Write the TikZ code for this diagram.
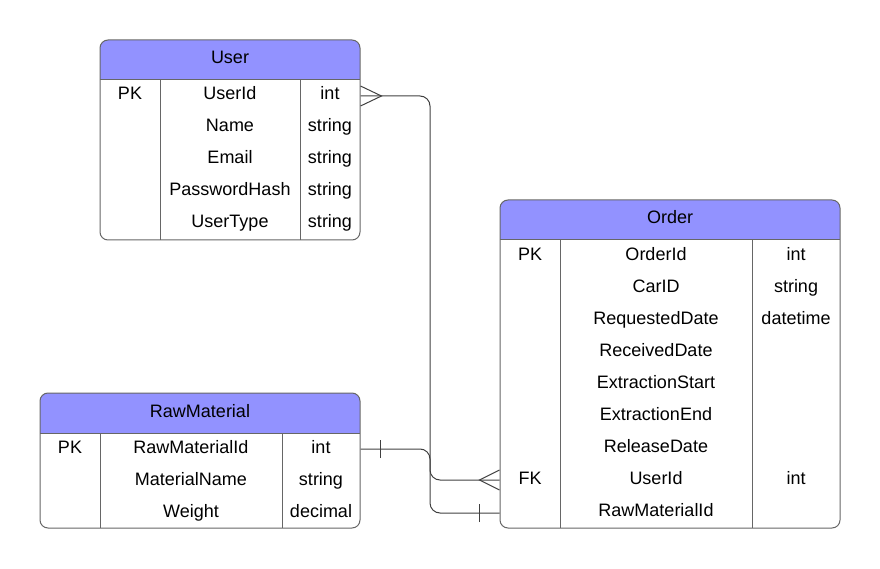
\documentclass[tikz,border=0pt]{standalone}
\usepackage{fontspec}
\setmainfont{Liberation Sans}
\begin{document}
\begin{tikzpicture}[x=1pt,y=-1pt,
  tablebox/.style={draw=black!60, line width=1pt, rounded corners=8pt, inner sep=0pt},
  hdr/.style={fill={rgb,255:red,146;green,146;blue,255}},
  grid/.style={draw=black!60, line width=1pt},
  txt/.style={inner sep=0pt, font=\fontsize{18}{21}\selectfont, anchor=base},
  conn/.style={draw=black!75, line width=1pt, rounded corners=10pt},
  notation/.style={draw=black!75, line width=1pt}
]
\useasboundingbox (0,0) rectangle (880,569);

% ---------- User ----------
\begin{scope}
\clip[rounded corners=8pt] (100,40) rectangle (360,240);
\fill[hdr] (100,40) rectangle (360,80);
\end{scope}
\node[tablebox, minimum width=260pt, minimum height=200pt] (user) at (230,140) {};
\draw[grid] (100,80) -- (360,80);
\draw[grid] (160,80) -- (160,240);
\draw[grid] (300,80) -- (300,240);
\node[txt] (user-title) at (230,64) {User};
\node[txt] (u-pk) at (130,100) {PK};
\node[txt] (u-n1) at (230,100) {UserId};
\node[txt] (u-t1) at (330,100) {int};
\node[txt] (u-n2) at (230,132) {Name};
\node[txt] (u-t2) at (330,132) {string};
\node[txt] (u-n3) at (230,164) {Email};
\node[txt] (u-t3) at (330,164) {string};
\node[txt] (u-n4) at (230,196) {PasswordHash};
\node[txt] (u-t4) at (330,196) {string};
\node[txt] (u-n5) at (230,228) {UserType};
\node[txt] (u-t5) at (330,228) {string};

% ---------- Order ----------
\begin{scope}
\clip[rounded corners=8pt] (500,200) rectangle (840,528);
\fill[hdr] (500,200) rectangle (840,240);
\end{scope}
\node[tablebox, minimum width=340pt, minimum height=328pt] (order) at (670,364) {};
\draw[grid] (500,240) -- (840,240);
\draw[grid] (560,240) -- (560,528);
\draw[grid] (752,240) -- (752,528);
\node[txt] (order-title) at (670,224) {Order};
\node[txt] (o-pk) at (530,260) {PK};
\node[txt] (o-n1) at (656,260) {OrderId};
\node[txt] (o-t1) at (796,260) {int};
\node[txt] (o-n2) at (656,292) {CarID};
\node[txt] (o-t2) at (796,292) {string};
\node[txt] (o-n3) at (656,324) {RequestedDate};
\node[txt] (o-t3) at (796,324) {datetime};
\node[txt] (o-n4) at (656,356) {ReceivedDate};
\node[txt] (o-n5) at (656,388) {ExtractionStart};
\node[txt] (o-n6) at (656,420) {ExtractionEnd};
\node[txt] (o-n7) at (656,452) {ReleaseDate};
\node[txt] (o-fk) at (530,484) {FK};
\node[txt] (o-n8) at (656,484) {UserId};
\node[txt] (o-t8) at (796,484) {int};
\node[txt] (o-n9) at (656,516) {RawMaterialId};

% ---------- RawMaterial ----------
\begin{scope}
\clip[rounded corners=8pt] (40,393) rectangle (360,528);
\fill[hdr] (40,393) rectangle (360,433);
\end{scope}
\node[tablebox, minimum width=320pt, minimum height=135pt] (raw) at (200,460.5) {};
\draw[grid] (40,433) -- (360,433);
\draw[grid] (100,433) -- (100,528);
\draw[grid] (282,433) -- (282,528);
\node[txt] (raw-title) at (200,417) {RawMaterial};
\node[txt] (r-pk) at (70,453) {PK};
\node[txt] (r-n1) at (191,453) {RawMaterialId};
\node[txt] (r-t1) at (321,453) {int};
\node[txt] (r-n2) at (191,485) {MaterialName};
\node[txt] (r-t2) at (321,485) {string};
\node[txt] (r-n3) at (191,517) {Weight};
\node[txt] (r-t3) at (321,517) {decimal};

% ---------- Connectors ----------
\coordinate (c1a) at (user.east |- 0,96);
\coordinate (c1b) at (order.west |- 0,480);
\coordinate (c2a) at (raw.east |- 0,449);
\coordinate (c2b) at (order.west |- 0,513);

\draw[conn] (c1a) -- (430,96) -- (430,480) -- (c1b);
\draw[notation] ([yshift=-10pt]c1a) -- ([xshift=21pt]c1a) -- ([yshift=10pt]c1a);
\draw[notation] ([yshift=-10pt]c1b) -- ([xshift=-20pt]c1b) -- ([yshift=10pt]c1b);

\draw[conn] (c2a) -- (430,449) -- (430,513) -- (c2b);
\draw[notation] ([xshift=20pt,yshift=-9pt]c2a) -- ([xshift=20pt,yshift=9pt]c2a);
\draw[notation] ([xshift=-20pt,yshift=-9pt]c2b) -- ([xshift=-20pt,yshift=9pt]c2b);
\end{tikzpicture}
\end{document}
